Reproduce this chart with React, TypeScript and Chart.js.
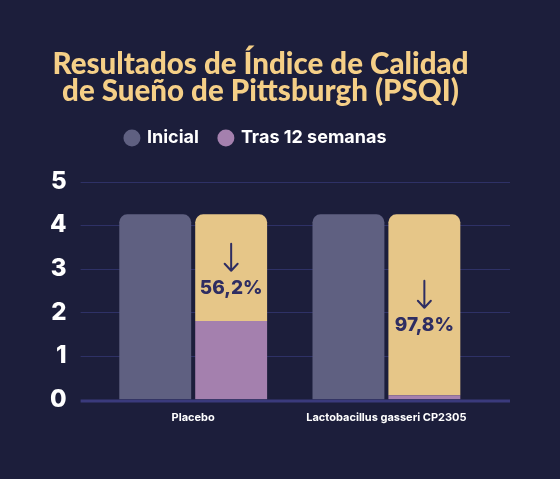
import React, { useEffect, useRef } from 'react';
import { Chart, registerables } from 'chart.js';

Chart.register(...registerables);

const titleLines = ['Resultados de Índice de Calidad', 'de Sueño de Pittsburgh (PSQI)'];
const categories = ['Placebo', 'Lactobacillus gasseri CP2305'];
const seriesNames = ['Inicial', 'Tras 12 semanas', 'Reducción'];
const inicial = [4.25, 4.25];
const tras12 = [1.8, 0.1];
const reduccion = [2.45, 4.15];
const reduccionLabels = ['56,2%', '97,8%'];
const yTicks = [0, 1, 2, 3, 4, 5];

const BG = '#1c1e3b';
const GRAY = '#5f6081';
const PURPLE = '#a480ae';
const YELLOW = '#e6c688';
const TITLE = '#f5cf87';
const GRID = '#2e3166';
const AXIS = '#3a3a7c';
const ANN = '#2e2d62';

const decor = {
  id: 'decor',
  beforeDatasetsDraw(chart: any) {
    const { ctx, chartArea } = chart;
    const y = chart.scales.y;
    ctx.save();
    ctx.strokeStyle = GRID;
    ctx.lineWidth = 1;
    yTicks.forEach((v) => {
      if (v === 0) return;
      const py = Math.round(y.getPixelForValue(v)) + 0.5;
      ctx.beginPath();
      ctx.moveTo(chartArea.left - 16, py);
      ctx.lineTo(chartArea.right + 27, py);
      ctx.stroke();
    });
    ctx.restore();
  },
  afterDatasetsDraw(chart: any) {
    const { ctx, chartArea } = chart;
    const y = chart.scales.y;
    ctx.save();
    const y0 = y.getPixelForValue(0);
    ctx.strokeStyle = AXIS;
    ctx.lineWidth = 3;
    ctx.beginPath();
    ctx.moveTo(chartArea.left - 16, y0 + 1.5);
    ctx.lineTo(chartArea.right + 27, y0 + 1.5);
    ctx.stroke();

    const meta = chart.getDatasetMeta(2);
    meta.data.forEach((bar: any, i: number) => {
      const p = bar.getProps(['x', 'y', 'base'], true);
      const c = (p.y + p.base) / 2;
      const x = p.x;
      ctx.strokeStyle = ANN;
      ctx.lineWidth = 2;
      ctx.lineCap = 'round';
      ctx.lineJoin = 'round';
      const top = c - 24;
      const bot = c + 3;
      ctx.beginPath();
      ctx.moveTo(x, top);
      ctx.lineTo(x, bot);
      ctx.moveTo(x - 6.5, bot - 7);
      ctx.lineTo(x, bot);
      ctx.lineTo(x + 6.5, bot - 7);
      ctx.stroke();
      ctx.fillStyle = ANN;
      ctx.font = '800 19px Inter';
      ctx.textAlign = 'center';
      ctx.textBaseline = 'middle';
      ctx.fillText(reduccionLabels[i], x, c + 21);
    });
    ctx.restore();
  },
};

export default function App() {
  const ref = useRef<HTMLCanvasElement>(null);

  useEffect(() => {
    document.body.style.margin = '0';
    document.body.style.background = BG;
    const baseGenerate = Chart.defaults.plugins.legend.labels.generateLabels;
    const chart = new Chart(ref.current as HTMLCanvasElement, {
      type: 'bar',
      data: {
        labels: categories,
        datasets: [
          {
            label: seriesNames[0],
            data: inicial,
            backgroundColor: GRAY,
            stack: 'a',
            xAxisID: 'x',
            yAxisID: 'y',
            borderRadius: { topLeft: 8, topRight: 8, bottomLeft: 0, bottomRight: 0 },
            categoryPercentage: 0.786,
            barPercentage: 0.947,
          },
          {
            label: seriesNames[1],
            data: tras12,
            backgroundColor: PURPLE,
            stack: 'b',
            xAxisID: 'x',
            yAxisID: 'y',
            borderRadius: 0,
            categoryPercentage: 0.786,
            barPercentage: 0.947,
          },
          {
            label: seriesNames[2],
            data: reduccion,
            backgroundColor: YELLOW,
            stack: 'b',
            xAxisID: 'x',
            yAxisID: 'y',
            borderRadius: { topLeft: 8, topRight: 8, bottomLeft: 0, bottomRight: 0 },
            categoryPercentage: 0.786,
            barPercentage: 0.947,
          },
        ],
      } as any,
      options: {
        animation: false,
        responsive: false,
        devicePixelRatio: 1,
        layout: { padding: { left: 38, right: 77, top: 0, bottom: 39.5 } },
        plugins: {
          tooltip: { enabled: false },
          title: {
            display: true,
            text: titleLines,
            color: TITLE,
            font: { family: 'Lato', size: 29.5, weight: '900' as any, lineHeight: '27px' as any },
            padding: { top: 51, bottom: 3 },
          },
          legend: {
            display: true,
            labels: {
              usePointStyle: true,
              pointStyle: 'circle',
              boxWidth: 12,
              boxHeight: 12,
              padding: 21,
              color: '#ffffff',
              font: { family: 'Inter', size: 18, weight: '700' as any },
              filter: (item: any) => item.datasetIndex < 2,
              generateLabels: (ch: any) => {
                const items = baseGenerate(ch);
                if (items[1]) items[1].text = items[1].text + '  ';
                return items;
              },
            },
          },
        },
        scales: {
          x: {
            type: 'category',
            position: 'bottom',
            stacked: true,
            grid: { display: false },
            border: { display: false },
            ticks: {
              color: '#ffffff',
              font: { family: 'Inter', size: 11, weight: '700' as any },
              padding: 4,
            },
            afterFit: (s: any) => {
              s.height = 40;
            },
          },
          xTop: {
            type: 'category',
            position: 'top',
            labels: categories,
            grid: { display: false },
            border: { display: false },
            ticks: { display: false },
            afterFit: (s: any) => {
              s.height = 24.7;
            },
          },
          y: {
            type: 'linear',
            stacked: true,
            min: 0,
            max: 5,
            grid: { display: false },
            border: { display: false },
            ticks: {
              stepSize: 1,
              color: '#ffffff',
              font: { family: 'Inter', size: 24, weight: '800' as any },
              padding: 22,
            },
            afterFit: (s: any) => {
              s.width = 58.6;
            },
          },
        },
      } as any,
      plugins: [decor],
    });
    return () => chart.destroy();
  }, []);

  return (
    <div style={{ position: 'fixed', left: 0, top: 0, width: 560, height: 479, background: BG }}>
      <canvas ref={ref} width={560} height={479} style={{ width: 560, height: 479, display: 'block' }} />
    </div>
  );
}
